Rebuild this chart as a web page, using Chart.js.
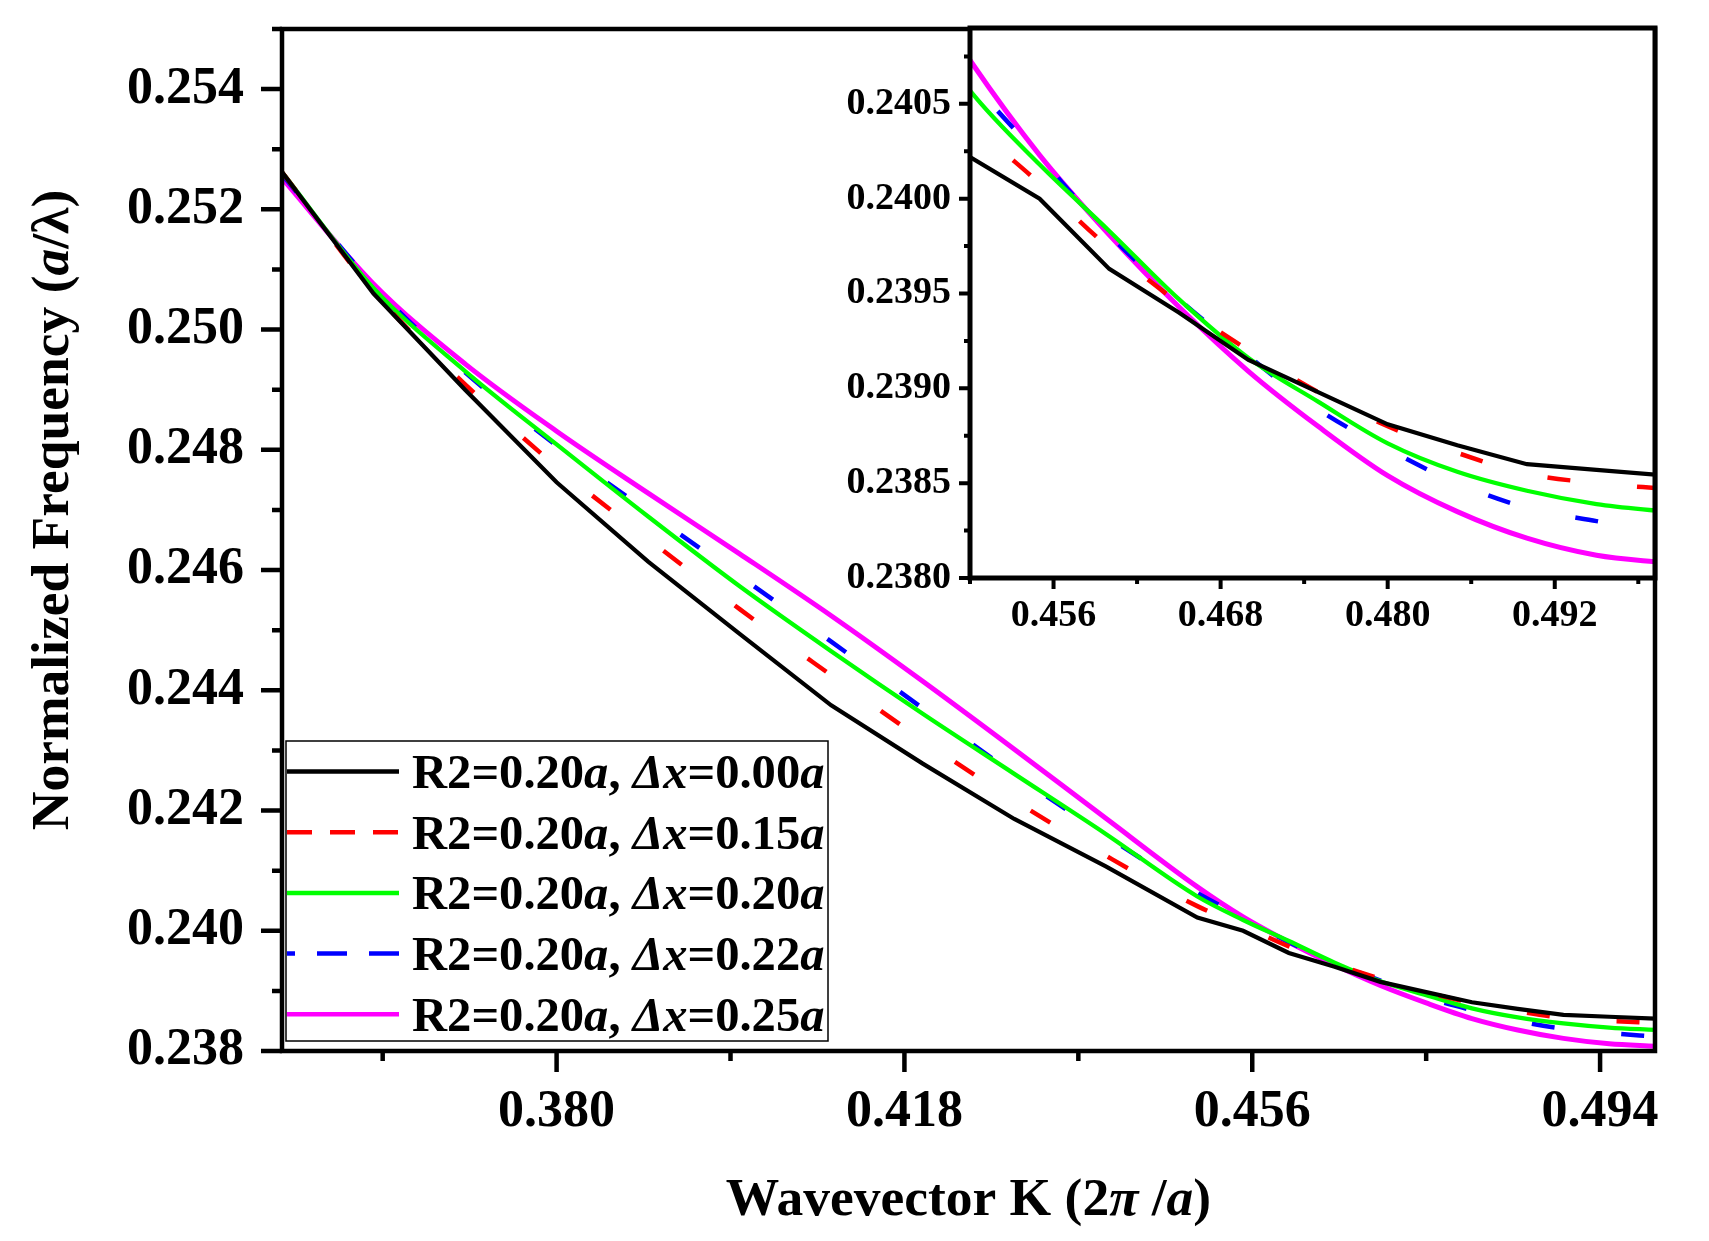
<!DOCTYPE html>
<html>
<head>
<meta charset="utf-8">
<script src="https://cdn.jsdelivr.net/npm/chart.js@4.4.1/dist/chart.umd.min.js"></script>
<style>
html, body { margin: 0; padding: 0; background: #ffffff; }
#wrap { position: relative; width: 1709px; height: 1241px; overflow: hidden; background: #ffffff; }
#main { position: absolute; left: 0; top: 0; }
#inset { position: absolute; left: 800px; top: 0; }
</style>
</head>
<body>
<div id="wrap">
  <canvas id="main" width="1709" height="1241"></canvas>
  <canvas id="inset" width="909" height="700"></canvas>
</div>
<script>
// ---------------- data ----------------
const kValues = [0.350, 0.360, 0.370, 0.380, 0.390, 0.400, 0.410, 0.420, 0.430, 0.440,
                 0.450, 0.455, 0.460, 0.465, 0.470, 0.475, 0.480, 0.485, 0.490, 0.495, 0.500];

const freqDx000 = [0.25262, 0.25060, 0.24900, 0.24746, 0.24614, 0.24494, 0.24375, 0.24278, 0.24186, 0.24107,
                   0.24022, 0.24000, 0.23963, 0.23940, 0.23915, 0.23898, 0.23881, 0.23870, 0.23860, 0.23857, 0.23854];
const freqDx015 = [0.25262, 0.25063, 0.24909, 0.24772, 0.24652, 0.24535, 0.24425, 0.24317, 0.24217, 0.24125,
                   0.24041, 0.24008, 0.23974, 0.23945, 0.23920, 0.23898, 0.23880, 0.23866, 0.23855, 0.23850, 0.23847];
const freqDx020 = [0.25262, 0.25069, 0.24931, 0.24809, 0.24689, 0.24573, 0.24465, 0.24361, 0.24261, 0.24161,
                   0.24057, 0.24018, 0.23983, 0.23947, 0.23916, 0.23893, 0.23871, 0.23856, 0.23846, 0.23839, 0.23835];
const freqDx022 = [0.25258, 0.25074, 0.24929, 0.24807, 0.24697, 0.24590, 0.24481, 0.24370, 0.24261, 0.24158,
                   0.24063, 0.24022, 0.23981, 0.23947, 0.23917, 0.23889, 0.23868, 0.23850, 0.23837, 0.23830, 0.23824];
const freqDx025 = [0.25252, 0.25076, 0.24943, 0.24831, 0.24728, 0.24627, 0.24524, 0.24415, 0.24302, 0.24187,
                   0.24073, 0.24023, 0.23981, 0.23943, 0.23909, 0.23880, 0.23854, 0.23835, 0.23821, 0.23812, 0.23808];

const seriesLabels = [
  'R2=0.20a, Δx=0.00a',
  'R2=0.20a, Δx=0.15a',
  'R2=0.20a, Δx=0.20a',
  'R2=0.20a, Δx=0.22a',
  'R2=0.20a, Δx=0.25a'
];

const mainXTicks = [0.380, 0.418, 0.456, 0.494];
const mainYTicks = [0.238, 0.240, 0.242, 0.244, 0.246, 0.248, 0.250, 0.252, 0.254];
const insetXTicks = [0.456, 0.468, 0.480, 0.492];
const insetYTicks = [0.2380, 0.2385, 0.2390, 0.2395, 0.2400, 0.2405];

const xTitleParts = [['Wavevector K (2', false], ['π', true], [' /', false], ['a', true], [')', false]];
const yTitleParts = [['Normalized Frequency (', false], ['a', true], ['/λ)', false]];

// ---------------- styling ----------------
const seriesValues = [freqDx000, freqDx015, freqDx020, freqDx022, freqDx025];
const seriesColors = ['#000000', '#ff0000', '#00ff00', '#0000ff', '#ff00ff'];
const seriesWidths = [4.2, 4.5, 4.3, 4.5, 5];
const seriesDash = [[], [23, 67], [], [23, 67], []];
const legendDash = [[], [25, 18], [], [30, 22], []];
const legendDashOffset = [0, 0, 0, 22, 0];
const FONT = '"Liberation Serif", "Times New Roman", serif';

function makeDatasets() {
  return seriesValues.map((vals, i) => ({
    label: seriesLabels[i],
    data: kValues.map((k, j) => ({ x: k, y: vals[j] })),
    borderColor: seriesColors[i],
    backgroundColor: seriesColors[i],
    borderWidth: seriesWidths[i],
    borderDash: seriesDash[i],
    pointRadius: 0,
    pointHoverRadius: 0,
    fill: false,
    tension: 0,
    cubicInterpolationMode: i === 0 ? 'default' : 'monotone'
  }));
}

function minorValues(major, min, max) {
  const step = major[1] - major[0];
  const eps = Math.abs(step) * 1e-3;
  const out = [];
  let v = major[0] - step / 2;
  while (v >= min - eps) { out.push(v); v -= step; }
  v = major[0] + step / 2;
  while (v <= max + eps) { out.push(v); v += step; }
  return out;
}

function drawRich(ctx, parts, x, y, align, size) {
  const fontFor = it => (it ? 'italic ' : '') + 'bold ' + size + 'px ' + FONT;
  let total = 0;
  const segs = parts.map(p => {
    ctx.font = fontFor(p[1]);
    const w = ctx.measureText(p[0]).width;
    total += w;
    return { t: p[0], i: p[1], w: w };
  });
  let cx = align === 'center' ? x - total / 2 : x;
  ctx.textAlign = 'left';
  ctx.textBaseline = 'alphabetic';
  ctx.fillStyle = '#000000';
  segs.forEach(s => { ctx.font = fontFor(s.i); ctx.fillText(s.t, cx, y); cx += s.w; });
}

function splitItalic(label) {
  const parts = [];
  for (const ch of label) {
    const it = (ch === 'a' || ch === 'Δ' || ch === 'x');
    if (parts.length && parts[parts.length - 1][1] === it) parts[parts.length - 1][0] += ch;
    else parts.push([ch, it]);
  }
  return parts;
}

const frameTicksPlugin = {
  id: 'frameTicks',
  afterDatasetsDraw(chart, args, o) {
    const ctx = chart.ctx;
    const a = chart.chartArea;
    const xs = chart.scales.x, ys = chart.scales.y;
    ctx.save();
    ctx.setLineDash([]);
    ctx.strokeStyle = '#000000';
    ctx.lineCap = 'butt';
    ctx.lineWidth = o.tickWidth;
    ctx.beginPath();
    o.xMajor.forEach(v => { const p = xs.getPixelForValue(v); ctx.moveTo(p, a.bottom); ctx.lineTo(p, a.bottom + o.majorLen); });
    minorValues(o.xMajor, xs.min, xs.max).forEach(v => { const p = xs.getPixelForValue(v); ctx.moveTo(p, a.bottom); ctx.lineTo(p, a.bottom + o.minorLen); });
    o.yMajor.forEach(v => { const p = ys.getPixelForValue(v); ctx.moveTo(a.left, p); ctx.lineTo(a.left - o.majorLen, p); });
    minorValues(o.yMajor, ys.min, ys.max).forEach(v => { const p = ys.getPixelForValue(v); ctx.moveTo(a.left, p); ctx.lineTo(a.left - o.minorLen, p); });
    ctx.stroke();
    ctx.lineWidth = o.frameWidth;
    ctx.lineJoin = 'miter';
    ctx.strokeRect(a.left, a.top, a.right - a.left, a.bottom - a.top);
    ctx.restore();
  }
};

const whiteAreaPlugin = {
  id: 'whiteArea',
  beforeDatasetsDraw(chart, args, o) {
    if (!o.on) return;
    const a = chart.chartArea, ctx = chart.ctx;
    ctx.save(); ctx.fillStyle = '#ffffff'; ctx.fillRect(a.left, a.top, a.right - a.left, a.bottom - a.top); ctx.restore();
  }
};

const titlesPlugin = {
  id: 'richTitles',
  afterDraw(chart, args, o) {
    const ctx = chart.ctx, a = chart.chartArea;
    ctx.save();
    drawRich(ctx, xTitleParts, (a.left + a.right) / 2, a.bottom + 164, 'center', 53.5);
    ctx.translate(a.left - 214, (a.top + a.bottom) / 2 - 30);
    ctx.rotate(-Math.PI / 2);
    drawRich(ctx, yTitleParts, 0, 0, 'center', 53.5);
    ctx.restore();
  }
};

const boxLegendPlugin = {
  id: 'boxLegend',
  afterDraw(chart, args, o) {
    const ctx = chart.ctx;
    ctx.save();
    ctx.fillStyle = '#ffffff';
    ctx.fillRect(o.left, o.top, o.right - o.left, o.bottom - o.top);
    ctx.strokeStyle = '#000000';
    ctx.lineWidth = 1.5;
    ctx.setLineDash([]);
    ctx.strokeRect(o.left, o.top, o.right - o.left, o.bottom - o.top);
    chart.data.datasets.forEach((ds, i) => {
      const yc = o.firstRowY + i * o.rowGap;
      ctx.save();
      ctx.strokeStyle = ds.borderColor;
      ctx.lineWidth = 4.5;
      ctx.lineCap = 'butt';
      ctx.setLineDash(legendDash[i]);
      ctx.lineDashOffset = legendDashOffset[i];
      ctx.beginPath();
      ctx.moveTo(o.lineX0, yc);
      ctx.lineTo(o.lineX1, yc);
      ctx.stroke();
      ctx.restore();
      drawRich(ctx, splitItalic(ds.label), o.textX, yc + 16.5, 'left', 48.6);
    });
    ctx.restore();
  }
};

function axisCfg(min, max, tickVals, decimals, size, padding, fitFn) {
  return {
    type: 'linear',
    min: min,
    max: max,
    afterBuildTicks: s => { s.ticks = tickVals.map(v => ({ value: v })); },
    afterFit: s => {
      fitFn(s);
      s.paddingTop = 0; s.paddingBottom = 0; s.paddingLeft = 0; s.paddingRight = 0;
    },
    grid: { display: false, drawTicks: false },
    border: { display: false },
    ticks: {
      autoSkip: false,
      maxRotation: 0,
      minRotation: 0,
      padding: padding,
      color: '#000000',
      font: { family: FONT, size: size, weight: 'bold' },
      callback: v => Number(v).toFixed(decimals)
    }
  };
}

Chart.defaults.font.family = FONT;

// ---------------- main chart ----------------
new Chart(document.getElementById('main'), {
  type: 'line',
  data: { datasets: makeDatasets() },
  options: {
    responsive: false,
    animation: false,
    devicePixelRatio: 1,
    events: [],
    layout: { padding: { left: 0, top: 29, right: 54, bottom: 0 } },
    scales: {
      x: axisCfg(0.35, 0.50, mainXTicks, 3, 52, 30, s => { s.height = 190; }),
      y: axisCfg(0.238, 0.255, mainYTicks, 3, 52, 38, s => { s.width = 282; })
    },
    plugins: {
      legend: { display: false },
      tooltip: { enabled: false },
      whiteArea: { on: false },
      frameTicks: { xMajor: mainXTicks, yMajor: mainYTicks, majorLen: 21, minorLen: 10, tickWidth: 4.5, frameWidth: 4.5 },
      boxLegend: { left: 286, top: 741, right: 828, bottom: 1041, firstRowY: 771.5, rowGap: 60.7, lineX0: 287, lineX1: 399, textX: 412 }
    }
  },
  plugins: [whiteAreaPlugin, frameTicksPlugin, titlesPlugin, boxLegendPlugin]
});

// ---------------- inset chart ----------------
new Chart(document.getElementById('inset'), {
  type: 'line',
  data: { datasets: makeDatasets() },
  options: {
    responsive: false,
    animation: false,
    devicePixelRatio: 1,
    events: [],
    layout: { padding: { left: 0, top: 28, right: 54, bottom: 0 } },
    scales: {
      x: axisCfg(0.450, 0.4992, insetXTicks, 3, 38, 15, s => { s.height = 122; }),
      y: axisCfg(0.2380, 0.2409, insetYTicks, 4, 38, 19, s => { s.width = 170; })
    },
    plugins: {
      legend: { display: false },
      tooltip: { enabled: false },
      whiteArea: { on: true },
      frameTicks: { xMajor: insetXTicks, yMajor: insetYTicks, majorLen: 11, minorLen: 6, tickWidth: 4, frameWidth: 5 }
    }
  },
  plugins: [whiteAreaPlugin, frameTicksPlugin]
});
</script>
</body>
</html>
